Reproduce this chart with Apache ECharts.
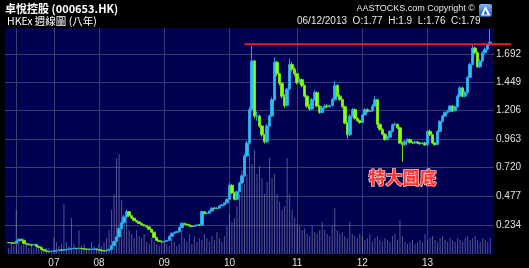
<!DOCTYPE html>
<html><head><meta charset="utf-8">
<script src="https://cdn.jsdelivr.net/npm/echarts@6/dist/echarts.min.js"></script>
<style>html,body{margin:0;padding:0;background:#000}#c{width:529px;height:268px}</style>
</head><body><div id="c"></div>
<script>
// ---- data (bi-weekly candles) ----
const yearLabels = ['', '07', '08', '09', '10', '11', '12', '13'];
const yearIndex  = [4, 19, 37, 63, 89, 116, 142, 168];
const priceTicks = [0.234, 0.477, 0.720, 0.963, 1.206, 1.449, 1.692];
const resistance = 1.772;
const resistanceStart = 95;
const noteText = '特大圓底';
const noteAt = [158, 0.634];

const opens = [null,
0.082,0.080,0.078,0.076,0.095,0.110,0.100,0.075,0.068,
0.062,0.060,0.066,0.050,0.040,0.022,0.012,0.006,0.005,0.006,
0.010,0.014,0.018,0.016,0.020,0.024,0.026,0.030,0.033,0.030,
0.032,0.028,0.026,0.024,0.023,0.025,0.026,0.022,0.018,0.012,
0.010,0.016,0.024,0.055,0.090,0.130,0.200,0.250,0.300,0.345,
0.310,0.290,0.270,0.258,0.245,0.232,0.225,0.215,0.195,0.170,
0.125,0.100,0.090,0.088,0.092,0.100,0.135,0.160,0.168,0.175,
0.210,0.245,0.238,0.232,0.222,0.218,0.226,0.232,0.230,0.345,
0.330,0.332,0.350,0.375,0.372,0.375,0.395,0.403,0.420,0.450,
0.570,0.505,0.450,0.515,0.590,0.650,0.820,0.930,1.215,1.630,
1.160,1.160,1.075,1.000,0.940,1.075,1.160,1.300,1.620,1.520,
1.440,1.330,1.250,1.390,1.600,1.560,1.520,1.445,1.470,1.420,
1.330,1.245,1.220,1.300,1.360,1.245,1.190,1.230,1.245,1.240,
1.250,1.300,1.420,1.330,1.300,1.240,1.100,1.000,1.160,1.215,
1.140,1.120,1.105,1.170,1.215,1.200,1.205,1.245,1.300,1.090,
1.045,1.005,0.960,0.980,1.030,1.085,1.090,1.060,0.930,0.915,
0.945,0.960,0.935,0.930,0.940,0.930,0.925,0.930,0.915,1.030,
1.000,0.930,0.918,1.030,1.115,1.160,1.190,1.200,1.245,1.205,
1.240,1.330,1.400,1.330,1.360,1.490,1.600,1.740,1.700,1.580,
1.630,1.700,1.730,1.770];

const closes = [null,
0.080,0.078,0.076,0.095,0.110,0.100,0.075,0.068,0.062,
0.060,0.066,0.050,0.040,0.022,0.012,0.006,0.005,0.006,0.010,
0.014,0.018,0.016,0.020,0.024,0.026,0.030,0.033,0.030,0.032,
0.028,0.026,0.024,0.023,0.025,0.026,0.022,0.018,0.012,0.010,
0.016,0.024,0.055,0.090,0.130,0.200,0.250,0.300,0.345,0.310,
0.290,0.270,0.258,0.245,0.232,0.225,0.215,0.195,0.170,0.125,
0.100,0.090,0.088,0.092,0.100,0.135,0.160,0.168,0.175,0.210,
0.245,0.238,0.232,0.222,0.218,0.226,0.232,0.230,0.345,0.330,
0.332,0.350,0.375,0.372,0.375,0.395,0.403,0.420,0.450,0.570,
0.505,0.450,0.515,0.590,0.650,0.820,0.930,1.215,1.630,1.160,
1.160,1.075,1.000,0.940,1.075,1.160,1.300,1.620,1.520,1.440,
1.330,1.250,1.390,1.600,1.560,1.520,1.445,1.470,1.420,1.330,
1.245,1.220,1.300,1.360,1.245,1.190,1.230,1.245,1.240,1.250,
1.300,1.420,1.330,1.300,1.240,1.100,1.000,1.160,1.215,1.140,
1.120,1.105,1.170,1.215,1.200,1.205,1.245,1.300,1.090,1.045,
1.005,0.960,0.980,1.030,1.085,1.090,1.060,0.930,0.915,0.945,
0.960,0.935,0.930,0.940,0.930,0.925,0.930,0.915,1.030,1.000,
0.930,0.918,1.030,1.115,1.160,1.190,1.200,1.245,1.205,1.240,
1.330,1.400,1.330,1.360,1.490,1.600,1.740,1.700,1.580,1.630,
1.700,1.730,1.770,1.790];

const highs = [null,
0.086,0.084,0.082,0.098,0.116,0.112,0.102,0.078,0.070,
0.066,0.070,0.068,0.053,0.042,0.025,0.014,0.009,0.008,0.012,
0.016,0.020,0.021,0.023,0.027,0.029,0.033,0.037,0.035,0.035,
0.034,0.030,0.028,0.026,0.028,0.029,0.028,0.024,0.020,0.014,
0.018,0.028,0.062,0.098,0.140,0.215,0.265,0.318,0.362,0.350,
0.318,0.295,0.275,0.262,0.250,0.238,0.228,0.218,0.198,0.175,
0.130,0.105,0.095,0.096,0.105,0.142,0.168,0.175,0.182,0.220,
0.255,0.250,0.242,0.236,0.228,0.230,0.238,0.240,0.355,0.350,
0.340,0.356,0.382,0.385,0.382,0.402,0.412,0.428,0.460,0.590,
0.580,0.515,0.525,0.600,0.665,0.840,0.950,1.240,1.757,1.640,
1.200,1.170,1.085,1.010,1.090,1.175,1.320,1.660,1.630,1.530,
1.450,1.345,1.400,1.650,1.620,1.575,1.530,1.490,1.480,1.430,
1.340,1.260,1.315,1.380,1.370,1.255,1.245,1.260,1.262,1.258,
1.315,1.460,1.430,1.345,1.310,1.250,1.110,1.175,1.230,1.225,
1.150,1.130,1.180,1.228,1.225,1.215,1.260,1.330,1.305,1.100,
1.055,1.015,0.990,1.040,1.095,1.105,1.095,1.070,0.940,0.955,
0.970,0.968,0.945,0.948,0.948,0.940,0.938,0.940,1.040,1.045,
1.010,0.940,1.040,1.125,1.170,1.200,1.215,1.255,1.255,1.250,
1.345,1.415,1.410,1.375,1.500,1.615,1.760,1.750,1.710,1.645,
1.715,1.745,1.780,1.900];

const lows = [null,
0.076,0.074,0.072,0.074,0.092,0.096,0.072,0.064,0.058,
0.056,0.058,0.046,0.036,0.018,0.009,0.004,0.003,0.003,0.005,
0.008,0.012,0.014,0.014,0.018,0.022,0.024,0.028,0.028,0.028,
0.026,0.024,0.022,0.021,0.021,0.023,0.020,0.016,0.010,0.008,
0.008,0.014,0.022,0.050,0.085,0.125,0.192,0.240,0.292,0.300,
0.282,0.262,0.250,0.240,0.228,0.220,0.210,0.190,0.165,0.118,
0.094,0.085,0.082,0.084,0.088,0.096,0.130,0.155,0.162,0.170,
0.205,0.230,0.226,0.218,0.212,0.214,0.222,0.224,0.225,0.322,
0.322,0.328,0.345,0.365,0.366,0.370,0.390,0.398,0.415,0.445,
0.495,0.440,0.442,0.510,0.582,0.640,0.810,0.920,1.200,1.140,
1.120,1.060,0.985,0.925,0.930,1.065,1.150,1.290,1.500,1.420,
1.310,1.230,1.240,1.380,1.540,1.500,1.430,1.435,1.405,1.320,
1.230,1.205,1.210,1.290,1.235,1.180,1.185,1.220,1.228,1.232,
1.240,1.290,1.320,1.290,1.225,1.090,0.970,0.990,1.150,1.130,
1.110,1.095,1.100,1.165,1.190,1.192,1.198,1.235,1.060,1.035,
0.995,0.950,0.952,0.972,1.020,1.075,1.050,0.920,0.770,0.905,
0.935,0.925,0.920,0.922,0.920,0.915,0.918,0.905,0.905,0.990,
0.920,0.905,0.910,1.020,1.105,1.150,1.180,1.192,1.195,1.198,
1.230,1.320,1.320,1.320,1.350,1.480,1.590,1.690,1.570,1.570,
1.620,1.690,1.720,1.760];

const volumes = [0,
3,5,4,22,6,4,8,5,3,
5,3,4,3,2,2,3,3,2,8,
6,4,5,25,6,4,18,5,3,12,
4,5,3,3,6,4,3,5,4,6,
8,12,22,30,48,50,27,15,20,12,
10,8,12,9,8,10,6,5,8,6,
5,4,7,6,5,4,8,6,4,5,
12,8,6,10,5,9,6,8,7,10,
8,6,9,7,11,8,6,9,14,20,
16,18,24,30,42,35,40,50,45,52,
40,44,38,30,36,48,38,40,30,26,
22,24,48,30,22,18,15,14,12,13,
10,9,14,11,10,12,16,12,10,9,
14,23,12,10,11,9,8,16,10,9,
8,10,9,7,8,10,6,8,9,7,
6,8,7,6,9,10,7,17,9,6,
5,6,7,5,6,7,6,10,7,8,
9,7,6,8,9,7,6,8,7,6,
8,7,6,8,9,7,8,9,7,6,
8,7,6,8];

[opens, closes, highs, lows, volumes].forEach((a, k) => {
  if (a.length !== 194) throw new Error('array ' + k + ' length ' + a.length);
});

// ---- build ----
const N = 195;
const cats = Array.from({length: N}, (_, i) => 'w' + i);
const candles = cats.map((_, i) => (i < closes.length && closes[i] != null) ? [opens[i], closes[i], lows[i], highs[i]] : '-');
const vols = cats.map((_, i) => (i < volumes.length) ? volumes[i] : '-');

const gridLines = [];
priceTicks.forEach(v => gridLines.push({yAxis: v, name: v.toFixed(3)}));
yearIndex.forEach(ix => gridLines.push({xAxis: ix, name: '', label: {show: false}}));

const chart = echarts.init(document.getElementById('c'), null, {renderer: 'canvas'});
const option = {
  backgroundColor: '#000000',
  animation: false,
  grid: {left: 5, top: 28, width: 489, height: 226, show: true, backgroundColor: '#000050', borderWidth: 0},
  xAxis: {
    type: 'category', data: cats, boundaryGap: true,
    axisLine: {show: false}, axisTick: {show: false}, splitLine: {show: false},
    axisLabel: {
      color: '#e0e0e0', fontSize: 10, fontFamily: 'Liberation Sans', margin: 4,
      interval: (idx) => yearIndex.indexOf(idx) >= 0,
      formatter: (v, idx) => { const k = yearIndex.indexOf(idx); return k >= 0 ? yearLabels[k] : ''; }
    }
  },
  yAxis: [
    {type: 'value', min: -0.016, max: 1.911, axisLabel: {show: false}, axisLine: {show: false}, axisTick: {show: false}, splitLine: {show: false}},
    {type: 'value', min: 0, max: 113, axisLabel: {show: false}, axisLine: {show: false}, axisTick: {show: false}, splitLine: {show: false}}
  ],
  series: [
    {
      type: 'line', data: closes, yAxisIndex: 0, symbol: 'none', silent: true, z: 1,
      lineStyle: {width: 0, opacity: 0},
      markLine: {
        silent: true, symbol: 'none', z: 1, animation: false,
        lineStyle: {color: '#3c3c74', width: 1, type: 'solid'},
        label: {show: true, position: 'end', distance: 2, color: '#e0e0e0', fontSize: 10, fontFamily: 'Liberation Sans',
          formatter: '{b}'},
        emphasis: {disabled: true},
        data: gridLines
      }
    },
    {
      type: 'bar', data: vols, yAxisIndex: 1, barWidth: 1, z: 2, silent: true,
      itemStyle: {color: 'rgba(140,140,185,0.6)'}
    },
    {
      type: 'candlestick', data: candles, yAxisIndex: 0, z: 3, barMaxWidth: 3, barWidth: 3,
      itemStyle: {color: '#2cc0f2', color0: '#86ff1a', borderColor: '#26a2e2', borderColor0: '#70e210', borderWidth: 1}
    }
  ]
};
chart.setOption(option);

// annotations placed through the chart's own scales
const p0 = chart.convertToPixel({xAxisIndex: 0, yAxisIndex: 0}, [resistanceStart, resistance]);
const pn = chart.convertToPixel({xAxisIndex: 0, yAxisIndex: 0}, noteAt);
chart.setOption({
  graphic: [
    {type: 'line', z: 50, shape: {x1: p0[0], y1: p0[1], x2: 511, y2: p0[1]}, style: {stroke: '#e0202c', lineWidth: 2}},
    {type: 'text', z: 50, x: pn[0], y: pn[1], style: {text: noteText, fill: '#ff3434', stroke: '#ffc8c8', lineWidth: 1.5,
      font: 'bold 17px "Noto Sans CJK TC"', align: 'center', verticalAlign: 'middle'}},
    {type: 'text', left: 5, top: 3, style: {text: '卓悅控股 (000653.HK)', fill: '#ffffff', font: 'bold 11px "Noto Sans CJK TC"'}},
    {type: 'text', left: 7, top: 16, style: {text: 'HKEx 週線圖 (八年)', fill: '#ffffff', font: '10.5px "Noto Sans CJK TC"'}},
    {type: 'text', right: 54, top: 4, style: {text: 'AASTOCKS.com Copyright ©', fill: '#e8e8e8', font: '9px "Liberation Sans"'}},
    {type: 'text', left: 297, top: 16, style: {text: '06/12/2013  O:1.77  H:1.9  L:1.76  C:1.79', fill: '#e8e8e8', font: '10px "Liberation Sans"'}},
    {type: 'rect', left: 479, top: 4, shape: {width: 13, height: 13, r: 2},
      style: {fill: new echarts.graphic.LinearGradient(0, 0, 0, 1, [{offset: 0, color: '#7fb4ff'}, {offset: 1, color: '#1d4fb8'}])}},
    {type: 'polygon', shape: {points: [[485.5, 6], [481, 15.5], [490.5, 15.5]]}, style: {fill: '#ffffff'}},
    {type: 'polygon', shape: {points: [[485.5, 10], [483.5, 14.5], [487.5, 14.5]]}, style: {fill: '#2a5cc4'}}
  ]
});
</script>
</body></html>
